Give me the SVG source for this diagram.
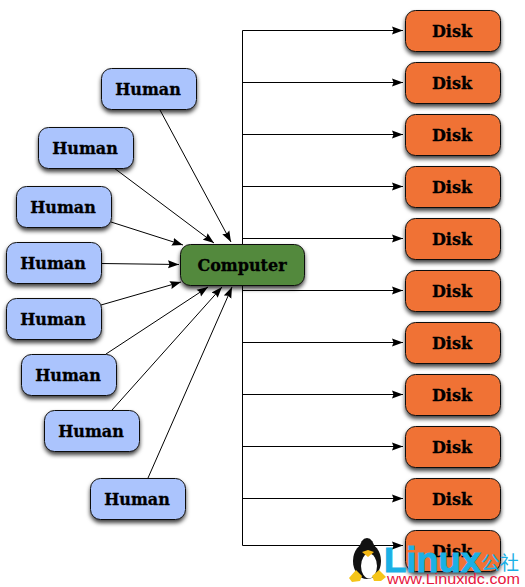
<svg xmlns="http://www.w3.org/2000/svg" width="525" height="587" viewBox="0 0 525 587">
<style>
.box{stroke:#111;stroke-width:1;filter:url(#sh)}
.h{fill:#abc4fd}.c{fill:#52893c}.d{fill:#f07235}
.t{font-family:"DejaVu Serif",serif;font-weight:bold;font-size:16px;text-anchor:middle;fill:#000;stroke:#000;stroke-width:.3px}
.l{stroke:#000;stroke-width:1;fill:none;marker-end:url(#a)}
.b{stroke:#000;stroke-width:1;fill:none}
</style>
<defs>
<filter id="sh" x="-15%" y="-20%" width="130%" height="150%"><feDropShadow dx="0" dy="3" stdDeviation="2.200" flood-color="#000" flood-opacity="0.75"/></filter>
<marker id="a" markerUnits="userSpaceOnUse" markerWidth="12" markerHeight="9" refX="11" refY="4.500" orient="auto"><path d="M0 .5L11 4.500L0 8.500L1.500 4.500Z" fill="#000"/></marker>
</defs>
<rect width="525" height="587" fill="#fff"/>
<g id="connectors">
<path class="b" d="M242.500 30.500V545.500"/>
<path class="l" d="M242.500 30.500H403"/>
<path class="l" d="M242.500 82.500H403"/>
<path class="l" d="M242.500 134.500H403"/>
<path class="l" d="M242.500 186.500H403"/>
<path class="l" d="M242.500 238.500H403"/>
<path class="l" d="M242.500 290.500H403"/>
<path class="l" d="M242.500 342.500H403"/>
<path class="l" d="M242.500 394.500H403"/>
<path class="l" d="M242.500 446.500H403"/>
<path class="l" d="M242.500 498.500H403"/>
<path class="l" d="M242.500 545.500H403"/>
<path class="l" d="M160 110L231 242"/>
<path class="l" d="M114 168L214 243"/>
<path class="l" d="M111 222L183 245"/>
<path class="l" d="M101 263.500L179 264.500"/>
<path class="l" d="M101 305L181 282"/>
<path class="l" d="M106 354L208 287"/>
<path class="l" d="M112 410L222 287"/>
<path class="l" d="M148 478L232 287"/>
</g>
<g id="human1"><rect class="box h" x="101.500" y="68.500" width="95" height="41" rx="10"/><text class="t" x="148" y="94.500">Human</text></g>
<g id="human2"><rect class="box h" x="38.500" y="127.500" width="95" height="41" rx="10"/><text class="t" x="85" y="153.500">Human</text></g>
<g id="human3"><rect class="box h" x="16.500" y="186.500" width="95" height="41" rx="10"/><text class="t" x="63" y="212.500">Human</text></g>
<g id="human4"><rect class="box h" x="6.500" y="242.500" width="95" height="41" rx="10"/><text class="t" x="53" y="268.500">Human</text></g>
<g id="human5"><rect class="box h" x="6.500" y="298.500" width="95" height="41" rx="10"/><text class="t" x="53" y="324.500">Human</text></g>
<g id="human6"><rect class="box h" x="21.500" y="354.500" width="95" height="41" rx="10"/><text class="t" x="68" y="380.500">Human</text></g>
<g id="human7"><rect class="box h" x="44.500" y="410.500" width="95" height="41" rx="10"/><text class="t" x="91" y="436.500">Human</text></g>
<g id="human8"><rect class="box h" x="90.500" y="478.500" width="95" height="41" rx="10"/><text class="t" x="137" y="504.500">Human</text></g>
<g id="computer"><rect class="box c" x="180.500" y="244.500" width="124" height="41" rx="10"/><text class="t" x="242" y="271">Computer</text></g>
<g id="disk1"><rect class="box d" x="405.500" y="10.500" width="95" height="41" rx="10"/><text class="t" x="452" y="36.500">Disk</text></g>
<g id="disk2"><rect class="box d" x="405.500" y="62.500" width="95" height="41" rx="10"/><text class="t" x="452" y="88.500">Disk</text></g>
<g id="disk3"><rect class="box d" x="405.500" y="114.500" width="95" height="41" rx="10"/><text class="t" x="452" y="140.500">Disk</text></g>
<g id="disk4"><rect class="box d" x="405.500" y="166.500" width="95" height="41" rx="10"/><text class="t" x="452" y="192.500">Disk</text></g>
<g id="disk5"><rect class="box d" x="405.500" y="218.500" width="95" height="41" rx="10"/><text class="t" x="452" y="244.500">Disk</text></g>
<g id="disk6"><rect class="box d" x="405.500" y="270.500" width="95" height="41" rx="10"/><text class="t" x="452" y="296.500">Disk</text></g>
<g id="disk7"><rect class="box d" x="405.500" y="322.500" width="95" height="41" rx="10"/><text class="t" x="452" y="348.500">Disk</text></g>
<g id="disk8"><rect class="box d" x="405.500" y="374.500" width="95" height="41" rx="10"/><text class="t" x="452" y="400.500">Disk</text></g>
<g id="disk9"><rect class="box d" x="405.500" y="426.500" width="95" height="41" rx="10"/><text class="t" x="452" y="452.500">Disk</text></g>
<g id="disk10"><rect class="box d" x="405.500" y="478.500" width="95" height="41" rx="10"/><text class="t" x="452" y="504.500">Disk</text></g>
<g id="disk11"><rect class="box d" x="405.500" y="530.500" width="95" height="41" rx="10"/><text class="t" x="452" y="556.500">Disk</text></g>
<g id="watermark">
<ellipse cx="367" cy="561" rx="14" ry="18" fill="#111"/>
<ellipse cx="367" cy="549" rx="7.500" ry="11" fill="#111"/>
<ellipse cx="369" cy="566" rx="8" ry="12.500" fill="#fff"/>
<path d="M362 552L368 550L374 552L368 557Z" fill="#f5b915"/>
<path d="M349 578L356 570L362 576L360 581L352 582Z" fill="#f5c518"/>
<path d="M372 576L379 570L386 577L381 581L374 581Z" fill="#f5c518"/>
<text x="384" y="572" font-family="Liberation Sans,sans-serif" font-weight="bold" font-size="35" textLength="97" lengthAdjust="spacingAndGlyphs" fill="#1bb0e5" stroke="#1bb0e5" stroke-width="1">Linux</text>
<text x="481" y="570" font-family="Noto Sans CJK SC,sans-serif" font-size="19" fill="#1bb0e5">公社</text>
<text x="387" y="584" font-family="Liberation Sans,sans-serif" font-size="15" textLength="133" lengthAdjust="spacingAndGlyphs" fill="#e8173f">www.Linuxidc.com</text>
</g>
</svg>
